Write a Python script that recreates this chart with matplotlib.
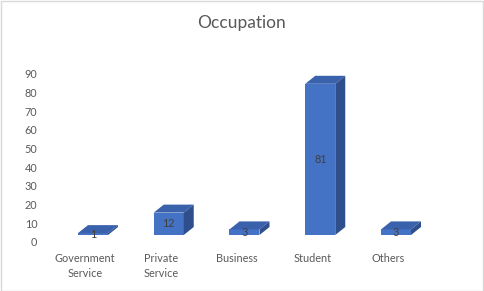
import matplotlib
matplotlib.use("Agg")
import matplotlib.pyplot as plt
from matplotlib.patches import Polygon, Rectangle
from matplotlib.transforms import ScaledTranslation

categories = ["Government\nService", "Private\nService", "Business", "Student", "Others"]
values = [1, 12, 3, 81, 3]
yticks = [0, 10, 20, 30, 40, 50, 60, 70, 80, 90]

title = "Occupation"

W, H, DPI = 484, 291, 100
fig = plt.figure(figsize=(W / DPI, H / DPI), dpi=DPI)
fig.patch.set_facecolor("white")

# axes placement in pixels
left_px, right_px = 47.1, 425.9
top_px, bottom_px = 74, 242
ax = fig.add_axes([left_px / W, (H - bottom_px) / H, (right_px - left_px) / W, (bottom_px - top_px) / H])
ax.set_xlim(-0.5, len(categories) - 0.5)
ax.set_ylim(0, 90)
for s in ax.spines.values():
    s.set_visible(False)
ax.set_facecolor("none")

txtcol = "#595959"
font = "Lato"
ax.set_yticks(yticks)
ax.set_yticklabels([str(t) for t in yticks], fontsize=7.8, color=txtcol, family=font)
ax.set_xticks(range(len(categories)))
ax.set_xticklabels(categories, fontsize=7.8, color=txtcol, family=font, linespacing=1.45)
ax.tick_params(axis="y", length=0, pad=7)
ax.tick_params(axis="x", length=0, pad=8)

# pixels -> data units
ppx = (right_px - left_px) / len(categories)   # px per x unit
ppy = (bottom_px - top_px) / 90.0              # px per y unit
bar_w = 30 / ppx
dx = 10 / ppx
dy = 8 / ppy

off = ax.transData + ScaledTranslation(8 / DPI, 7 / DPI, fig.dpi_scale_trans)

front_c = "#4472C4"
top_c = "#3A62AC"
side_c = "#2E4F8C"

for i, v in enumerate(values):
    x0 = i - bar_w / 2
    x1 = i + bar_w / 2
    ax.add_patch(Rectangle((x0, 0), bar_w, v, facecolor=front_c, edgecolor="none",
                           transform=off, clip_on=False, zorder=3))
    ax.add_patch(Polygon([(x0, v), (x1, v), (x1 + dx, v + dy), (x0 + dx, v + dy)],
                         closed=True, facecolor=top_c, edgecolor="none",
                         transform=off, clip_on=False, zorder=3))
    ax.add_patch(Polygon([(x1, 0), (x1 + dx, dy), (x1 + dx, v + dy), (x1, v)],
                         closed=True, facecolor=side_c, edgecolor="none",
                         transform=off, clip_on=False, zorder=3))
    ax.text(i, v / 2, str(v), ha="center", va="center", fontsize=7.8, color="#404040",
            family=font, transform=off, zorder=4)

fig.text(242 / W, 1 - 23 / H, title, ha="center", va="center", fontsize=12.5,
         color=txtcol, family=font)

fig.add_artist(Rectangle((0.5 / W, 0.5 / H), 1 - 1.5 / W, 1 - 1.5 / H, transform=fig.transFigure,
                         facecolor="none", edgecolor="#D9D9D9", linewidth=1.0))

fig.savefig("out.png", dpi=DPI, facecolor="white")
